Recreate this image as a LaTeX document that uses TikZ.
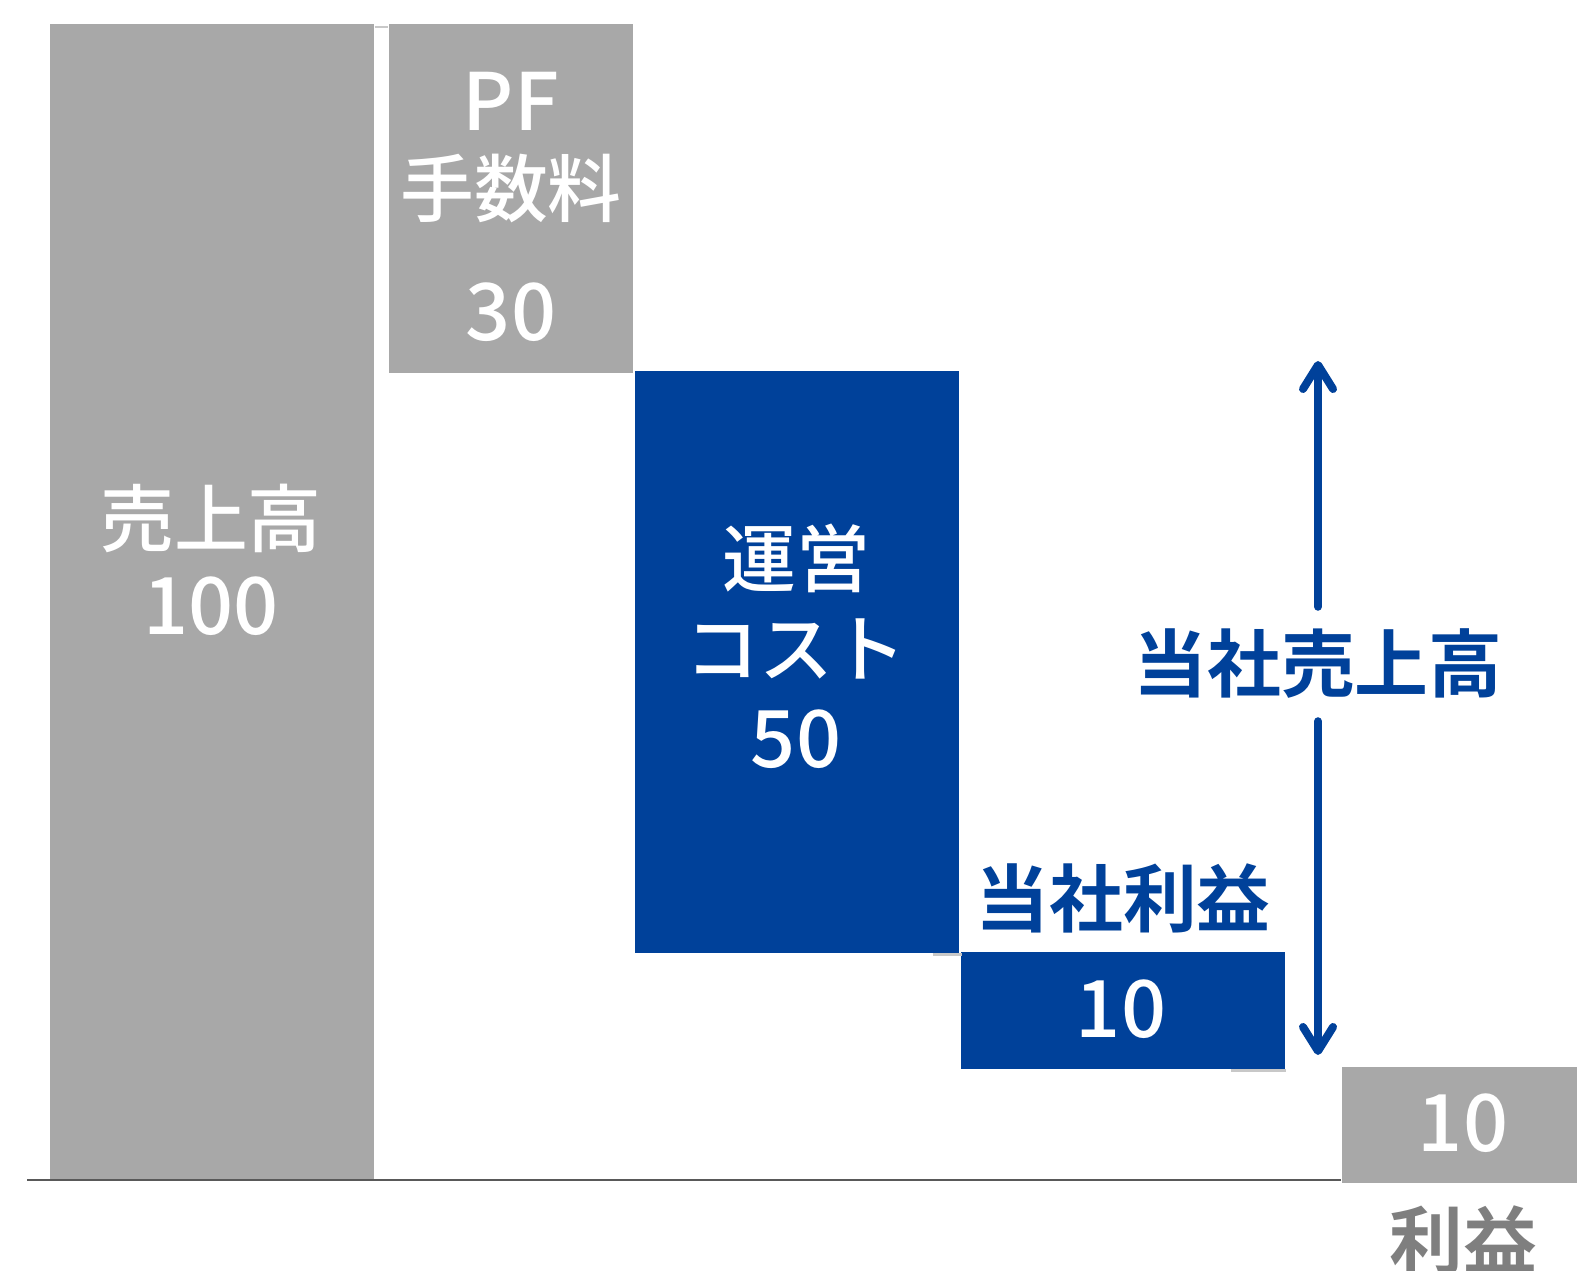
\documentclass[tikz,border=0pt]{standalone}
\usepackage{fontspec}
\newfontfamily\jpfont{Noto Sans CJK JP}[BoldFont={Noto Sans CJK JP Medium}]
\newfontfamily\jpheavy{Noto Sans CJK JP Bold}
\usetikzlibrary{positioning,calc,arrows.meta}
\definecolor{bargray}{HTML}{A8A8A8}
\definecolor{barblue}{HTML}{00419A}
\definecolor{axisgray}{HTML}{595959}
\definecolor{linkgray}{HTML}{C8C8C8}
\definecolor{txtgray}{HTML}{7F7F7F}

\tikzset{
  bar/.style={draw=none, inner sep=0pt, anchor=north west},
  graybar/.style={bar, fill=bargray},
  bluebar/.style={bar, fill=barblue},
  jptext/.style={font=\jpfont\bfseries\fontsize{21}{25}\selectfont, inner sep=0pt},
  outtext/.style={font=\jpheavy\fontsize{21}{25}\selectfont, inner sep=0pt},
  numtext/.style={font=\jpfont\bfseries\fontsize{22.5}{27}\selectfont, inner sep=0pt},
  link/.style={draw=linkgray, line width=0.025cm},
  axisline/.style={draw=axisgray, line width=0.017cm},
  arrowline/.style={draw=barblue, line width=0.08cm, line cap=round,
    -{Straight Barb[length=0.24cm, width=0.3cm, round]}},
}

\begin{document}
\begin{tikzpicture}[x=0.01cm, y=-0.01cm]
\clip (0,0) rectangle (1577,1271);
\fill[white] (0,0) rectangle (1577,1271);

% bars
\node[graybar, minimum width=3.24cm, minimum height=11.57cm] (sales) at (49,23) {};
\node[graybar, minimum width=2.44cm, minimum height=3.49cm] (pffee) at (388,23) {};
\node[bluebar, minimum width=3.24cm, minimum height=5.82cm] (opcost) at (634,370) {};
\node[bluebar, minimum width=3.24cm, minimum height=1.17cm] (ownprofit) at (960,951) {};
\node[graybar, minimum width=2.60cm, minimum height=1.16cm] (profit) at (1341,1066) {};

% connectors between bars
\draw[link] ($(sales.north east)+(0,4)$) -- ($(pffee.north west)+(0,4)$);
\draw[link] ($(opcost.south east)+(-27,1)$) -- ($(opcost.south east)+(2,1)$);
\draw[link] ($(ownprofit.south east)+(-55,1)$) -- ($(ownprofit.south east)+(0,1)$);

% axis
\coordinate (axisstart) at (27,1180);
\draw[axisline] (axisstart) -- (profit.west |- axisstart);

% labels in bars
\node[jptext, text=white] (salesname) at (211,518) {売上高};
\node[numtext, text=white] (salesval) at (211,606) {100};
\node[numtext, text=white] (pfname) at (511,101) {PF};
\node[jptext, text=white] (feename) at (511,189) {手数料};
\node[numtext, text=white] (pfval) at (511,312) {30};
\node[jptext, text=white] (opname) at (796,558) {運営};
\node[jptext, text=white] (costname) at (796,649) {コスト};
\node[numtext, text=white] (opval) at (796,739) {50};
\node[outtext, text=barblue] (ownname) at (1123,898) {当社利益};
\node[numtext, text=white] (ownval) at (1121,1009) {10};
\node[numtext, text=white] (profitval) at (1463,1123) {10};
\node[outtext, text=txtgray] (profitname) at (1463,1240) {利益};

% own sales arrow
\node[outtext, text=barblue, minimum height=1.13cm] (ownsales) at (1318,664) {当社売上高};
\coordinate (arrtop) at (1318,361);
\coordinate (arrbot) at (1318,1055);
\draw[arrowline] (ownsales) -- (arrtop);
\draw[arrowline] (ownsales) -- (arrbot);
\end{tikzpicture}
\end{document}
